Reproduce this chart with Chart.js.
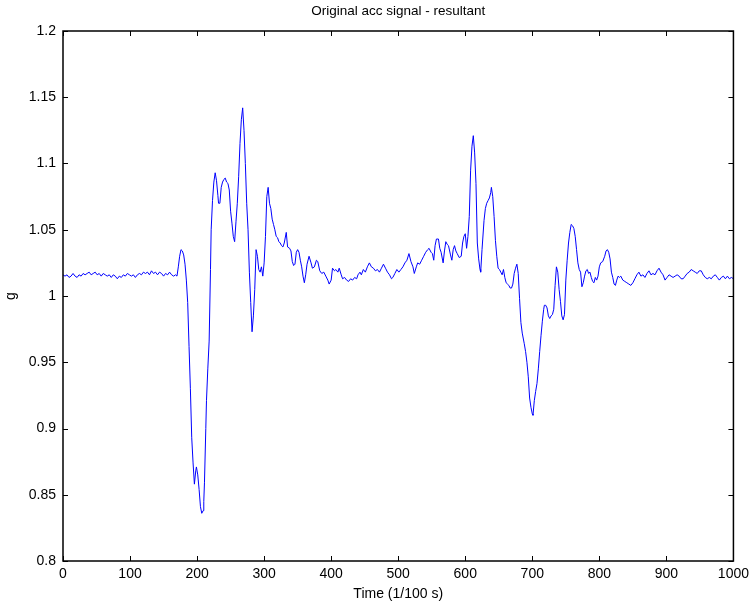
<!DOCTYPE html>
<html>
<head>
<meta charset="utf-8">
<title>Original acc signal - resultant</title>
<script src="https://cdn.jsdelivr.net/npm/chart.js@4/dist/chart.umd.min.js"></script>
<style>
    html, body { margin: 0; padding: 0; background: #fff; }
    #wrap { width: 754px; height: 607px; }
</style>
</head>
<body>
<div id="wrap"><canvas id="accChart"></canvas></div>
<script>
// sample index (1/100 s)
const timeIdx = [
    0, 3, 6, 9, 12, 15, 18, 21, 24, 27, 30, 33, 36, 39, 42, 45, 48, 51, 54, 57,
    60, 63, 66, 69, 72, 75, 78, 81, 84, 87, 90, 93, 96, 99, 102, 105, 108, 111, 114, 117,
    120, 123, 126, 129, 132, 135, 138, 141, 144, 147, 150, 153, 156, 159, 162, 165, 168, 170,
    172, 174, 176, 178, 180, 182, 184, 186, 188, 190, 192, 194, 196, 198, 199, 201, 203, 205, 207, 209, 210, 211,
    213, 214, 216, 218, 220, 221, 223, 225, 227, 229, 231, 232, 234, 236, 238, 240, 242, 244, 246, 248,
    250, 252, 254, 256, 258, 260, 262, 264, 266, 268, 270, 272, 274, 276, 278, 280, 282, 284, 286, 288,
    290, 292, 294, 296, 298, 300, 302, 304, 306, 308, 310, 312, 314, 316, 318, 320, 322, 324, 326, 328,
    330, 333, 335, 338, 340, 342, 344, 346, 348, 350, 352, 354, 356, 358, 360, 362, 364, 367, 370, 372,
    375, 378, 380, 383, 386, 389, 392, 395, 397, 400, 402, 405, 407, 410, 412, 415, 417, 420, 423, 426,
    429, 432, 435, 438, 440, 443, 445, 448, 451, 454, 457, 460, 463, 466, 469, 472, 475, 478, 481, 484,
    487, 490, 492, 495, 498, 501, 504, 507, 510, 513, 516, 519, 522, 524, 527, 529, 532, 535, 538, 541,
    544, 546, 549, 551, 553, 555, 557, 560, 562, 564, 567, 569, 571, 573, 575, 578, 580, 582, 584, 586,
    588, 591, 594, 596, 598, 600, 602, 604, 606, 608, 610, 612, 614, 616, 618, 620, 622, 623, 625, 628,
    630, 632, 634, 636, 638, 639, 641, 643, 645, 647, 649, 651, 653, 655, 657, 659, 661, 663, 665, 667,
    669, 671, 673, 675, 677, 679, 681, 683, 685, 688, 690, 692, 694, 696, 698, 700, 701, 703, 705, 707,
    709, 711, 713, 715, 717, 718, 720, 722, 724, 726, 728, 730, 732, 734, 736, 738, 740, 742, 744, 746,
    748, 750, 752, 754, 756, 758, 760, 762, 764, 766, 768, 770, 772, 774, 776, 778, 780, 782, 784, 786,
    788, 790, 792, 794, 796, 798, 800, 802, 805, 808, 810, 812, 814, 816, 818, 820, 822, 824, 826, 828,
    830, 832, 835, 838, 841, 844, 847, 850, 853, 856, 859, 862, 865, 868, 871, 874, 877, 880, 883, 886,
    889, 892, 895, 898, 901, 904, 907, 910, 913, 916, 919, 922, 925, 928, 931, 934, 937, 940, 943, 946,
    949, 952, 955, 958, 961, 964, 967, 970, 973, 976, 979, 982, 985, 988, 991, 994, 997, 1000
];

// resultant acceleration (g)
const accG = [
    1.016, 1.015, 1.016, 1.014, 1.015, 1.017, 1.015, 1.014, 1.016, 1.015, 1.017, 1.016, 1.017, 1.018, 1.016, 1.017, 1.018, 1.016, 1.017, 1.015,
    1.017, 1.016, 1.015, 1.016, 1.014, 1.016, 1.015, 1.013, 1.015, 1.014, 1.016, 1.015, 1.017, 1.016, 1.015, 1.016, 1.014, 1.016, 1.017, 1.016,
    1.018, 1.017, 1.018, 1.016, 1.019, 1.017, 1.018, 1.016, 1.018, 1.017, 1.015, 1.017, 1.016, 1.018, 1.016, 1.015, 1.016, 1.015,
    1.022, 1.030, 1.035, 1.034, 1.031, 1.024, 1.012, 0.995, 0.962, 0.930, 0.893, 0.874, 0.858, 0.868, 0.871, 0.865, 0.854, 0.841, 0.836, 0.838, 0.845, 0.859,
    0.900, 0.921, 0.945, 0.966, 1.020, 1.050, 1.072, 1.086, 1.093, 1.087, 1.076, 1.070, 1.070, 1.082, 1.086, 1.088, 1.089, 1.086, 1.085, 1.080,
    1.064, 1.055, 1.045, 1.041, 1.056, 1.070, 1.090, 1.115, 1.133, 1.142, 1.125, 1.100, 1.070, 1.050, 1.018, 0.995, 0.973, 0.985, 1.005, 1.035,
    1.030, 1.020, 1.018, 1.022, 1.015, 1.025, 1.045, 1.075, 1.082, 1.070, 1.066, 1.058, 1.054, 1.050, 1.045, 1.044, 1.041, 1.040, 1.038, 1.037,
    1.040, 1.048, 1.037, 1.036, 1.034, 1.026, 1.023, 1.024, 1.033, 1.035, 1.033, 1.027, 1.022, 1.015, 1.010, 1.016, 1.024, 1.030, 1.025, 1.021,
    1.022, 1.027, 1.026, 1.019, 1.017, 1.018, 1.015, 1.012, 1.009, 1.012, 1.021, 1.019, 1.020, 1.018, 1.021, 1.016, 1.013, 1.014, 1.012, 1.011,
    1.013, 1.012, 1.014, 1.013, 1.016, 1.018, 1.016, 1.020, 1.018, 1.022, 1.025, 1.022, 1.021, 1.019, 1.020, 1.018, 1.021, 1.024, 1.021, 1.018,
    1.016, 1.013, 1.014, 1.017, 1.020, 1.018, 1.020, 1.022, 1.025, 1.027, 1.032, 1.026, 1.022, 1.017, 1.022, 1.025, 1.024, 1.027, 1.030, 1.033,
    1.035, 1.036, 1.033, 1.032, 1.027, 1.038, 1.043, 1.043, 1.036, 1.033, 1.025, 1.034, 1.041, 1.039, 1.038, 1.031, 1.027, 1.035, 1.038, 1.034,
    1.032, 1.029, 1.030, 1.040, 1.045, 1.047, 1.036, 1.045, 1.060, 1.095, 1.113, 1.121, 1.108, 1.085, 1.040, 1.028, 1.020, 1.018, 1.035, 1.057,
    1.066, 1.070, 1.072, 1.074, 1.078, 1.082, 1.075, 1.060, 1.042, 1.030, 1.021, 1.020, 1.018, 1.016, 1.020, 1.014, 1.010, 1.009, 1.008, 1.006,
    1.006, 1.009, 1.017, 1.021, 1.024, 1.017, 0.998, 0.980, 0.972, 0.964, 0.958, 0.950, 0.939, 0.923, 0.916, 0.911, 0.910, 0.921, 0.928, 0.934,
    0.945, 0.958, 0.970, 0.981, 0.990, 0.993, 0.993, 0.991, 0.985, 0.983, 0.985, 0.986, 0.990, 1.008, 1.022, 1.018, 1.005, 0.996, 0.985, 0.982,
    0.986, 1.012, 1.027, 1.040, 1.048, 1.054, 1.053, 1.051, 1.045, 1.035, 1.025, 1.020, 1.018, 1.007, 1.010, 1.015, 1.019, 1.020, 1.017, 1.018,
    1.014, 1.011, 1.010, 1.014, 1.012, 1.015, 1.022, 1.025, 1.026, 1.030, 1.034, 1.035, 1.033, 1.028, 1.018, 1.014, 1.009, 1.008, 1.012, 1.015,
    1.014, 1.015, 1.012, 1.011, 1.010, 1.009, 1.008, 1.010, 1.013, 1.016, 1.018, 1.015, 1.016, 1.014, 1.017, 1.019, 1.016, 1.017, 1.016, 1.019,
    1.021, 1.018, 1.016, 1.012, 1.014, 1.016, 1.015, 1.014, 1.015, 1.016, 1.015, 1.013, 1.013, 1.015, 1.017, 1.018, 1.020, 1.019, 1.018, 1.017,
    1.019, 1.019, 1.016, 1.014, 1.013, 1.014, 1.013, 1.015, 1.016, 1.014, 1.012, 1.014, 1.015, 1.013, 1.015, 1.013, 1.014, 1.013
];

// axis settings
const xMin = 0, xMax = 1000, xStep = 100;
const yMin = 0.8, yMax = 1.2, yStep = 0.05;

const fontFamily = "'Liberation Sans', Arial, Helvetica, sans-serif";

// MATLAB style box with inward ticks on all four sides
const boxPlugin = {
    id: 'boxPlugin',
    afterDraw(chart) {
        const ctx = chart.ctx;
        const a = chart.chartArea;
        const xs = chart.scales.x;
        const ys = chart.scales.y;
        const len = 5;
        ctx.save();
        ctx.strokeStyle = '#000';
        ctx.lineWidth = 1;
        ctx.beginPath();
        xs.ticks.forEach(t => {
            const px = Math.round(xs.getPixelForValue(t.value)) + 0.5;
            ctx.moveTo(px, a.bottom);
            ctx.lineTo(px, a.bottom - len);
            ctx.moveTo(px, a.top);
            ctx.lineTo(px, a.top + len);
        });
        ys.ticks.forEach(t => {
            const py = Math.round(ys.getPixelForValue(t.value)) + 0.5;
            ctx.moveTo(a.left, py);
            ctx.lineTo(a.left + len, py);
            ctx.moveTo(a.right, py);
            ctx.lineTo(a.right - len, py);
        });
        ctx.stroke();
        ctx.lineWidth = 1.5;
        ctx.strokeRect(a.left, a.top, a.right - a.left, a.bottom - a.top);
        ctx.restore();
    }
};

function buildPoints() {
    return timeIdx.map((t, i) => ({ x: t, y: accG[i] }));
}

const ctx = document.getElementById('accChart').getContext('2d');
new Chart(ctx, {
    type: 'line',
    data: {
        datasets: [{
            data: buildPoints(),
            borderColor: '#0000ff',
            borderWidth: 1,
            pointRadius: 0,
            tension: 0,
            fill: false
        }]
    },
    options: {
        responsive: true,
        maintainAspectRatio: false,
        animation: false,
        layout: { padding: { left: 0, right: 19, top: 0, bottom: 0 } },
        plugins: {
            legend: { display: false },
            tooltip: { enabled: false },
            title: {
                display: true,
                text: 'Original acc signal - resultant',
                color: '#000',
                fullSize: false,
                font: { family: fontFamily, size: 13.5, weight: 'normal' },
                padding: { top: 3, bottom: 11.8 }
            }
        },
        scales: {
            x: {
                type: 'linear',
                min: xMin,
                max: xMax,
                grid: { display: false, drawTicks: false },
                border: { display: false },
                ticks: {
                    stepSize: xStep,
                    color: '#000',
                    padding: 5,
                    maxRotation: 0,
                    font: { family: fontFamily, size: 14 },
                    callback: v => String(v)
                },
                title: {
                    display: true,
                    text: 'Time (1/100 s)',
                    color: '#000',
                    font: { family: fontFamily, size: 14 },
                    padding: { top: 0, bottom: 4 }
                },
                afterFit: scale => { scale.height = 46; }
            },
            y: {
                type: 'linear',
                min: yMin,
                max: yMax,
                grid: { display: false, drawTicks: false },
                border: { display: false },
                ticks: {
                    stepSize: yStep,
                    color: '#000',
                    padding: 7,
                    font: { family: fontFamily, size: 14 },
                    callback: v => String(+v.toFixed(2))
                },
                title: {
                    display: true,
                    text: 'g',
                    color: '#000',
                    font: { family: fontFamily, size: 14 },
                    padding: { top: 3, bottom: 0 }
                },
                afterFit: scale => { scale.width = 63; }
            }
        }
    },
    plugins: [boxPlugin]
});
</script>
</body>
</html>
